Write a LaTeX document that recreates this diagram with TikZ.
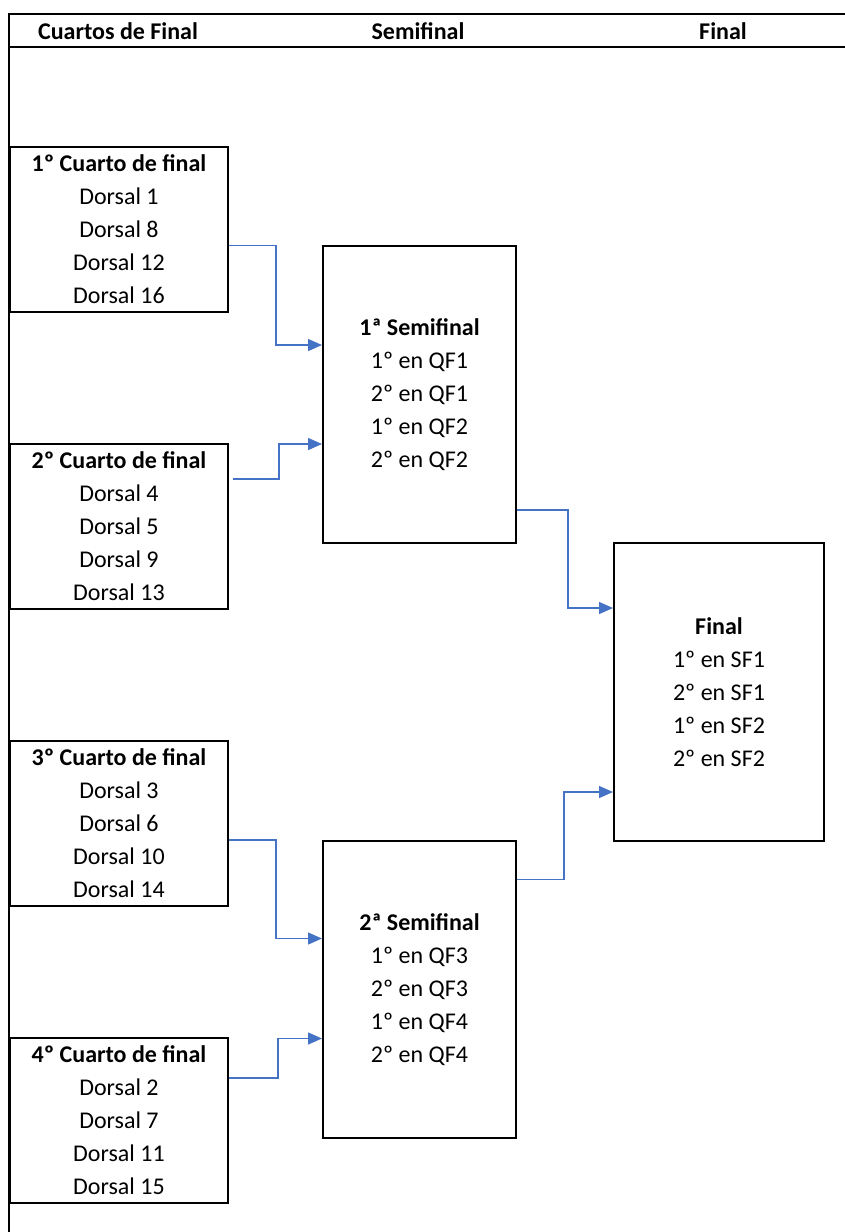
\documentclass[tikz,border=0pt]{standalone}
\usepackage{fontspec}
\setmainfont{Carlito}
\usetikzlibrary{arrows.meta}
\definecolor{linkblue}{RGB}{68,114,196}

\begin{document}
\begin{tikzpicture}
	[x=0.5pt, y=-0.5pt,
	 every node/.style={font=\fontsize{12}{16.5}\selectfont, inner sep=0pt},
	 heading/.style={font=\fontsize{12}{16.5}\selectfont\bfseries},
	 qbox/.style={draw, line width=1pt, align=center, anchor=north west, minimum width=109pt, minimum height=82.5pt},
	 sbox/.style={draw, line width=1pt, align=center, anchor=north west, minimum width=96.5pt, minimum height=148.5pt},
	 fbox/.style={draw, line width=1pt, align=center, anchor=north west, minimum width=105pt, minimum height=149pt},
	 rule/.style={line width=1.2pt},
	 link/.style={draw=linkblue, line width=0.7pt, -{Triangle[length=7pt,width=6pt]}}]
	\useasboundingbox (0,0) rectangle (845,1232);
	% table header
	\draw[rule] (845,14) -- (9,14) -- (9,1232);
	\draw[rule] (9,47) -- (845,47);
	\node[heading] (hq) at (118,31) {Cuartos de Final};
	\node[heading] (hs) at (418,31) {Semifinal};
	\node[heading] (hf) at (723,31) {Final};
	% cuartos de final
	\node[qbox] (qf1) at (9,146) {\textbf{1º Cuarto de final}\\Dorsal 1\\Dorsal 8\\Dorsal 12\\Dorsal 16};
	\node[qbox] (qf2) at (9,443) {\textbf{2º Cuarto de final}\\Dorsal 4\\Dorsal 5\\Dorsal 9\\Dorsal 13};
	\node[qbox] (qf3) at (9,740) {\textbf{3º Cuarto de final}\\Dorsal 3\\Dorsal 6\\Dorsal 10\\Dorsal 14};
	\node[qbox] (qf4) at (9,1037) {\textbf{4º Cuarto de final}\\Dorsal 2\\Dorsal 7\\Dorsal 11\\Dorsal 15};
	% semifinales
	\node[sbox] (sf1) at (322,245) {\textbf{1ª Semifinal}\\1º en QF1\\2º en QF1\\1º en QF2\\2º en QF2};
	\node[sbox] (sf2) at (322,840) {\textbf{2ª Semifinal}\\1º en QF3\\2º en QF3\\1º en QF4\\2º en QF4};
	% final
	\node[fbox] (fin) at (613,542) {\textbf{Final}\\1º en SF1\\2º en SF1\\1º en SF2\\2º en SF2};
	% connectors
	\draw[link] ([yshift=-8pt]qf1.east) -- ++(23.5pt,0) |- ([yshift=24.75pt]sf1.west);
	\draw[link] ([xshift=2pt,yshift=23.75pt]qf2.east) -- ++(23pt,0) |- ([yshift=-24.75pt]sf1.west);
	\draw[link] ([yshift=-8.25pt]qf3.east) -- ++(23.5pt,0) |- ([yshift=25.5pt]sf2.west);
	\draw[link] ([yshift=21.25pt]qf4.east) -- ++(24.5pt,0) |- ([yshift=-24.5pt]sf2.west);
	\draw[link] ([yshift=-57.75pt]sf1.east) -- ++(25.5pt,0) |- ([yshift=42pt]fin.west);
	\draw[link] ([yshift=55pt]sf2.east) -- ++(23.5pt,0) |- ([yshift=-50pt]fin.west);
\end{tikzpicture}
\end{document}
